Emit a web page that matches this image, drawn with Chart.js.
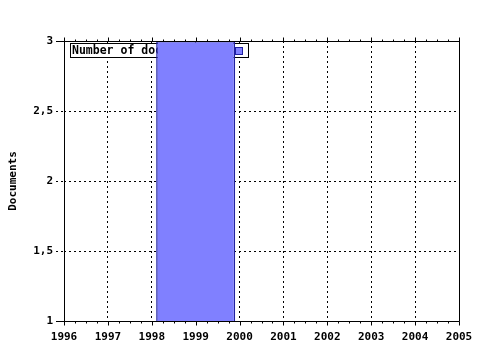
<!DOCTYPE html>
<html>
<head>
<meta charset="utf-8">
<script src="https://cdn.jsdelivr.net/npm/chart.js@4"></script>
<style>
html, body { margin: 0; padding: 0; background: #fff; }
</style>
</head>
<body>
<canvas id="docChart" width="480" height="350"></canvas>
<script>
// data
const years = [1999];
const documents = [3];
const seriesLabel = 'Number of documents';
const yTitle = 'Documents';
const xRange = [1996, 2005];
const yRange = [1, 3];

const FONT = '"DejaVu Sans Mono", "Liberation Mono", monospace';

// legend box drawn inside the plot, under the bars
const innerLegend = {
    id: 'innerLegend',
    beforeDatasetsDraw(chart) {
        const ctx = chart.ctx;
        const area = chart.chartArea;
        const ds = chart.data.datasets[0];
        ctx.save();
        ctx.font = 'bold 11.5px ' + FONT;
        const w = ctx.measureText(ds.label).width;
        const x = Math.round(area.left) + 6, y = Math.round(area.top) + 2;
        const boxW = Math.round(w + 46), boxH = 14;
        ctx.fillStyle = '#fff';
        ctx.fillRect(x, y, boxW, boxH);
        ctx.strokeStyle = '#000';
        ctx.lineWidth = 1;
        ctx.strokeRect(x + 0.5, y + 0.5, boxW, boxH);
        ctx.fillStyle = '#000';
        ctx.textBaseline = 'middle';
        ctx.fillText(ds.label, x + 2, y + boxH / 2 + 1);
        ctx.fillStyle = ds.backgroundColor;
        ctx.fillRect(x + boxW - 13, y + 4, 7, 7);
        ctx.strokeStyle = ds.borderColor;
        ctx.strokeRect(x + boxW - 12.5, y + 4.5, 7, 7);
        ctx.restore();
    }
};

// solid frame round the plot and the minor ticks
const frame = {
    id: 'frame',
    afterDraw(chart) {
        const ctx = chart.ctx;
        const a = chart.chartArea;
        const xs = chart.scales.x;
        const l = Math.round(a.left) + 0.5, r = Math.round(a.right) + 0.5;
        const t = Math.round(a.top) + 0.5, b = Math.round(a.bottom) + 0.5;
        ctx.save();
        ctx.strokeStyle = '#000';
        ctx.lineWidth = 1;
        ctx.beginPath();
        ctx.rect(l, t, r - l, b - t);
        ctx.moveTo(l - 8, t);
        ctx.lineTo(l, t);
        ctx.moveTo(l - 8, b);
        ctx.lineTo(l, b);
        for (let v = xRange[0]; v <= xRange[1] + 1e-9; v += 0.25) {
            const px = Math.round(xs.getPixelForValue(v)) + 0.5;
            const major = Math.abs(v - Math.round(v)) < 1e-6;
            ctx.moveTo(px, t);
            ctx.lineTo(px, t - (major ? 4 : 2));
            ctx.moveTo(px, b);
            ctx.lineTo(px, b + (major ? 4 : 2));
        }
        ctx.stroke();
        ctx.restore();
    }
};

new Chart(document.getElementById('docChart'), {
    type: 'bar',
    data: {
        datasets: [{
            label: seriesLabel,
            data: years.map((y, i) => ({ x: y, y: documents[i] })),
            backgroundColor: '#8080ff',
            borderColor: '#2020a0',
            borderWidth: 1.5,
            borderSkipped: false,
            barPercentage: 1.8,
            categoryPercentage: 1
        }]
    },
    options: {
        responsive: false,
        devicePixelRatio: 1,
        animation: false,
        layout: { padding: { top: 41, right: 21, left: 0, bottom: 0 } },
        plugins: {
            legend: { display: false },
            tooltip: { enabled: false }
        },
        scales: {
            x: {
                type: 'linear',
                offset: false,
                min: xRange[0],
                max: xRange[1],
                afterFit: s => {
                    s.height = 29;
                    s.paddingLeft = 0;
                    s.paddingRight = 0;
                },
                ticks: {
                    stepSize: 1,
                    autoSkip: false,
                    maxRotation: 0,
                    padding: 10,
                    color: '#000',
                    font: { family: FONT, size: 11, weight: 'bold' },
                    callback: v => String(v)
                },
                grid: { offset: false, color: '#000', drawTicks: false },
                border: { display: false, dash: [2, 3] }
            },
            y: {
                min: yRange[0],
                max: yRange[1],
                afterFit: s => { s.width = 64; },
                ticks: {
                    stepSize: 0.5,
                    padding: 3,
                    color: '#000',
                    font: { family: FONT, size: 11, weight: 'bold' },
                    callback: v => String(v).replace('.', ',')
                },
                grid: { color: '#000', tickLength: 8, tickBorderDash: [2, 3] },
                border: { display: false, dash: [2, 3] },
                title: {
                    display: true,
                    text: yTitle,
                    color: '#000',
                    font: { family: FONT, size: 11, weight: 'bold' },
                    padding: { top: 7, bottom: 0 }
                }
            }
        }
    },
    plugins: [innerLegend, frame]
});
</script>
</body>
</html>
